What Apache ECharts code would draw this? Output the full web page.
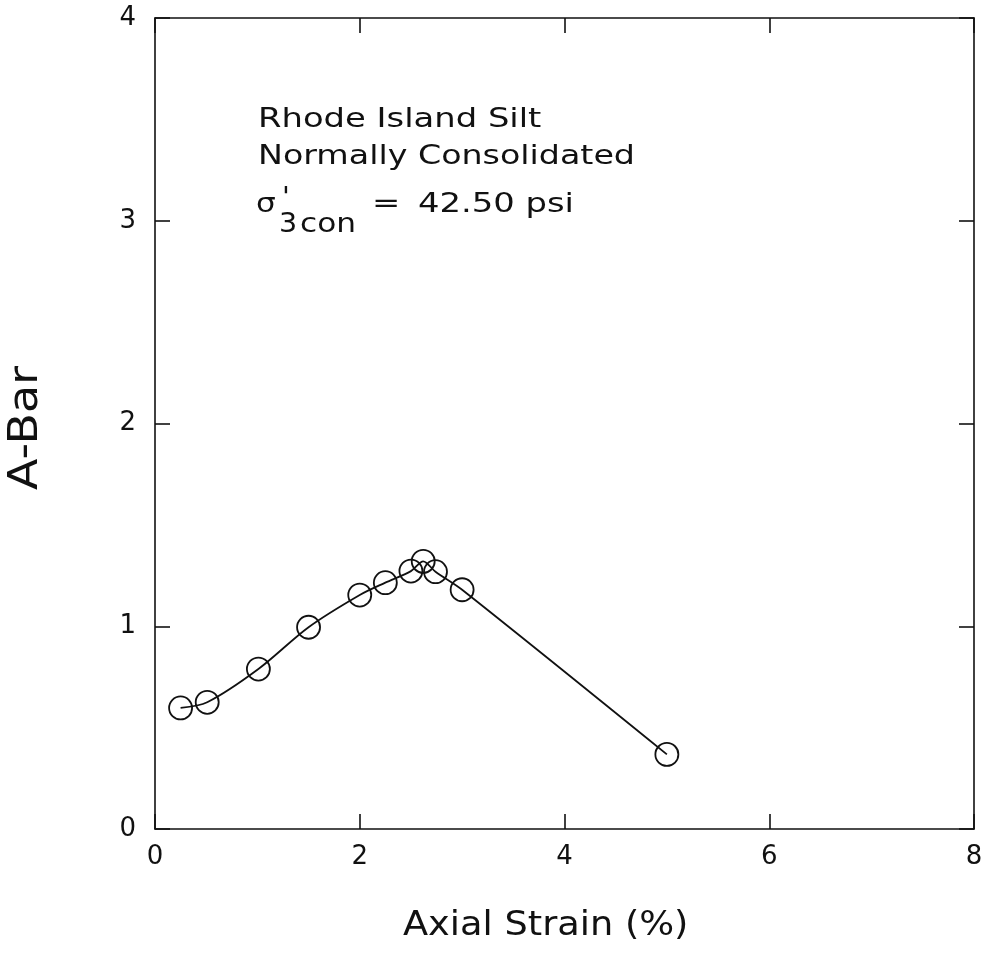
<!DOCTYPE html>
<html>
<head>
<meta charset="utf-8">
<script src="https://cdn.jsdelivr.net/npm/echarts@6/dist/echarts.min.js"></script>
<style>
  html, body { margin: 0; padding: 0; background: #fff; }
  #chart { width: 989px; height: 957px; }
</style>
</head>
<body>
<div id="chart"></div>
<script>
// Axial strain (%) and A-Bar readings for the test
const strain = [0.25, 0.51, 1.01, 1.50, 2.00, 2.25, 2.50, 2.62, 2.74, 3.00, 5.00];
const aBar   = [0.597, 0.625, 0.789, 0.995, 1.154, 1.215, 1.272, 1.32, 1.269, 1.18, 0.368];

const xTicks = [0, 2, 4, 6, 8];
const yTicks = [0, 1, 2, 3, 4];

const FONT = 'DejaVu Sans';
const INK = '#111';

const chart = echarts.init(document.getElementById('chart'));

const points = strain.map((x, i) => [x, aBar[i]]);

const baseAxis = {
  axisLine: { show: true, onZero: false, lineStyle: { color: INK, width: 1.6 } },
  axisTick: { show: true, inside: true, length: 15, lineStyle: { color: INK, width: 1.6 } },
  splitLine: { show: false }
};

// wide, plotter-style lettering: stretch text horizontally
const label = (text, x, y, size, sx, extra) => Object.assign({
  type: 'text', x: x, y: y, scaleX: sx || 1,
  style: Object.assign({ text: text, font: size + 'px "DejaVu Sans"', fill: INK, verticalAlign: 'bottom' }, extra || {})
}, {});

chart.setOption({
  backgroundColor: '#fff',
  animation: false,
  grid: { left: 155, right: 15, top: 18, bottom: 128 },
  xAxis: [
    Object.assign({}, baseAxis, {
      type: 'value', position: 'bottom',
      min: xTicks[0], max: xTicks[xTicks.length - 1], interval: 2,
      axisLabel: { color: INK, fontFamily: FONT, fontSize: 26, margin: 15 }
    }),
    Object.assign({}, baseAxis, {
      type: 'value', position: 'top',
      min: xTicks[0], max: xTicks[xTicks.length - 1], interval: 2,
      axisLabel: { show: false }
    })
  ],
  yAxis: [
    Object.assign({}, baseAxis, {
      type: 'value', position: 'left',
      min: yTicks[0], max: yTicks[yTicks.length - 1], interval: 1,
      axisLabel: { color: INK, fontFamily: FONT, fontSize: 26, margin: 19 }
    }),
    Object.assign({}, baseAxis, {
      type: 'value', position: 'right',
      min: yTicks[0], max: yTicks[yTicks.length - 1], interval: 1,
      axisLabel: { show: false }
    })
  ],
  series: [{
    type: 'line',
    data: points,
    smooth: 0.3,
    symbol: 'circle',
    symbolSize: 23,
    lineStyle: { color: INK, width: 1.8 },
    itemStyle: { color: 'rgba(0,0,0,0)', borderColor: INK, borderWidth: 1.8 },
    z: 3
  }],
  graphic: [
    label('Axial Strain (%)', 403, 909, 34, 1.08, { verticalAlign: 'top' }),
    { type: 'text', x: 27, y: 428, rotation: Math.PI / 2, scaleX: 1.15,
      style: { text: 'A-Bar', font: '40px "DejaVu Sans"', fill: INK, align: 'center', verticalAlign: 'middle' } },
    label('Rhode Island Silt', 258, 133, 26, 1.3),
    label('Normally Consolidated', 258, 170, 26, 1.28),
    label('σ', 256, 218, 26, 1.2),
    label('3', 279, 238, 26, 1.1),
    label("'", 282, 212, 26, 1.1),
    label('con', 300, 238, 26, 1.2),
    label('=', 372, 218, 26, 1.3),
    label('42.50 psi', 418, 218, 26, 1.3)
  ]
});
</script>
</body>
</html>
